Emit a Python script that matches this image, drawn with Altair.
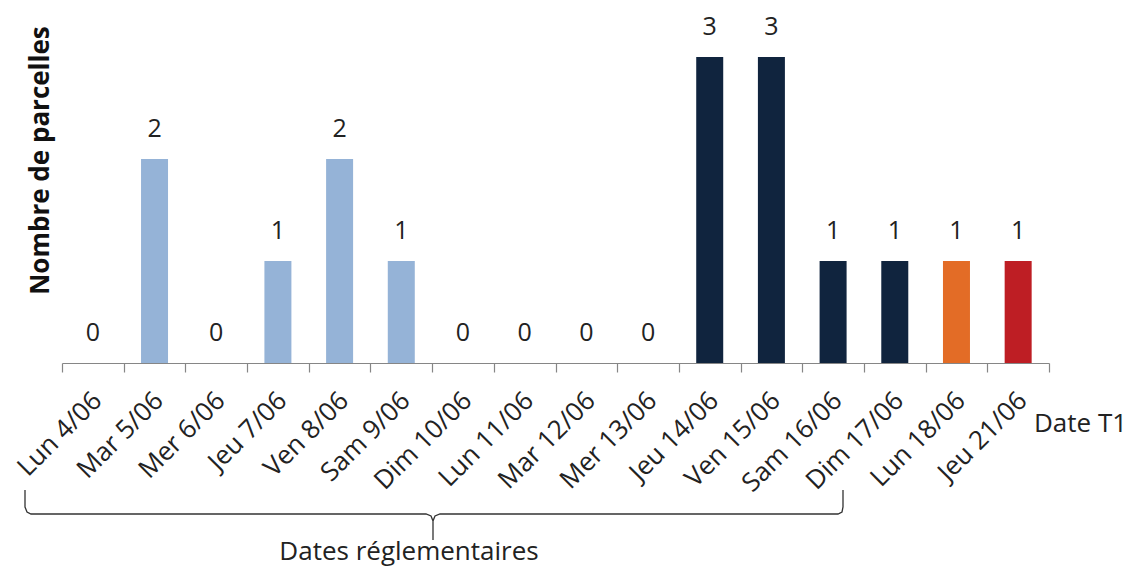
import altair as alt
import pandas as pd

categories = ["Lun 4/06", "Mar 5/06", "Mer 6/06", "Jeu 7/06", "Ven 8/06", "Sam 9/06",
              "Dim 10/06", "Lun 11/06", "Mar 12/06", "Mer 13/06", "Jeu 14/06",
              "Ven 15/06", "Sam 16/06", "Dim 17/06", "Lun 18/06", "Jeu 21/06"]
values = [0, 2, 0, 1, 2, 1, 0, 0, 0, 0, 3, 3, 1, 1, 1, 1]
groups = ["avant", "avant", "avant", "avant", "avant", "avant", "avant", "avant",
          "avant", "avant", "apres", "apres", "apres", "apres", "lun18", "jeu21"]

group_domain = ["avant", "apres", "lun18", "jeu21"]
group_colors = ["#95B3D7", "#10243E", "#E36C26", "#BE1E24"]

# brace annotation path (pixel space relative to plot origin)
brace_x = [-37, -37, -35, -31, 364, 369, 371, 371, 371, 373, 378, 776, 780, 781, 781]
brace_y = [433, 450, 455, 457, 457, 459, 464, 483, 464, 459, 457, 457, 455, 450, 433]

FONT = "Open Sans"
FS = 26
TXT = "#222222"

df = pd.DataFrame({"date": categories, "value": values, "group": groups})

x_enc = alt.X(
    "date:N", sort=categories,
    scale=alt.Scale(paddingInner=0, paddingOuter=0),
    axis=alt.Axis(
        title=None, labelAngle=-45, labelAlign="right", labelBaseline="top",
        labelPadding=15, labelOffset=-5, tickBand="extent", tickSize=9,
        domainColor="#868686", tickColor="#868686", domainWidth=1.2, tickWidth=1.2,
        labelFont=FONT, labelFontSize=FS, labelColor=TXT, labelOverlap=False,
        labelLimit=300,
    ),
)
y_enc = alt.Y(
    "value:Q", scale=alt.Scale(domain=[0, 3], nice=False),
    axis=alt.Axis(
        labels=False, ticks=False, domain=False, grid=False,
        title="Nombre de parcelles", titleFont=FONT, titleFontSize=FS,
        titleFontWeight="bold", titleColor="#111111", titleAngle=270,
        titleAlign="center", titleBaseline="middle", titleX=-22, titleY=103,
    ),
)

base = alt.Chart(df)
bars = base.mark_bar(size=27).encode(
    x=x_enc, y=y_enc,
    color=alt.Color("group:N", scale=alt.Scale(domain=group_domain, range=group_colors), legend=None),
)
labels = base.mark_text(dy=-22, baseline="alphabetic", font=FONT, fontSize=25, color=TXT).encode(
    x=alt.X("date:N", sort=categories), y="value:Q", text="value:Q"
)

brace_df = pd.DataFrame({"bx": brace_x, "by": brace_y, "o": list(range(len(brace_x)))})
brace = alt.Chart(brace_df).mark_line(color="#333333", strokeWidth=1.3, clip=False).encode(
    x=alt.X("bx:Q", scale=None), y=alt.Y("by:Q", scale=None), order="o:Q"
)

date_t1 = alt.Chart(pd.DataFrame({"t": ["Date  T1"]})).mark_text(
    align="left", baseline="alphabetic", font=FONT, fontSize=FS, color=TXT
).encode(x=alt.value(972), y=alt.value(375), text="t:N")

reg = alt.Chart(pd.DataFrame({"t": ["Dates réglementaires"]})).mark_text(
    align="center", baseline="alphabetic", font=FONT, fontSize=FS, color=TXT
).encode(x=alt.value(347), y=alt.value(503), text="t:N")

chart = alt.layer(bars, labels, brace, date_t1, reg).properties(
    width=987, height=306,
    padding={"left": 54, "top": 49, "right": 87, "bottom": 204},
    autosize=alt.AutoSizeParams(type="none"),
).configure_view(stroke=None)

chart.save("out.html", embed_options={"renderer": "svg", "actions": False})
